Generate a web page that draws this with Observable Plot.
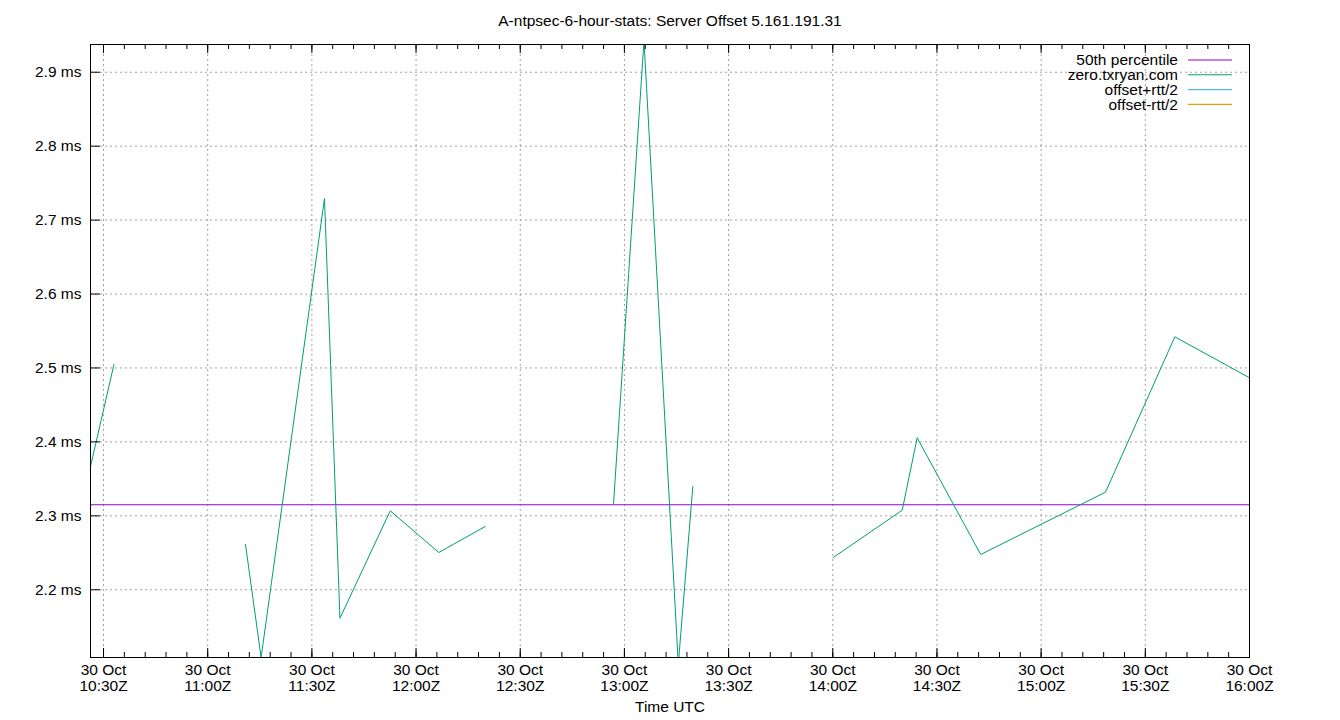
<!DOCTYPE html>
<html>
<head>
<meta charset="utf-8">
<script src="https://cdn.jsdelivr.net/npm/d3@7"></script>
<script src="https://cdn.jsdelivr.net/npm/@observablehq/plot@0.6"></script>
<style>
  html, body { margin: 0; padding: 0; background: #fff; }
  #chart { position: relative; width: 1340px; height: 720px; }
</style>
</head>
<body>
<div id="chart"></div>
<script>
// ---------- data ----------
const title = "A-ntpsec-6-hour-stats: Server Offset 5.161.191.31";
const xLabel = "Time UTC";
const day = "2023-10-30";
const times = ["10:26:15","10:33:00","11:10:53","11:15:23","11:33:38","11:38:05","11:52:34",
               "12:06:33","12:19:55","12:56:52","13:05:38","13:15:31","13:19:42","14:00:07",
               "14:20:00","14:24:18","14:42:36","15:18:32","15:38:30","16:00:00"];
const offsets = [2.3667,2.5047,2.2612,2.1084,2.7292,2.1616,2.3068,
                 2.2504,2.2856,2.3162,2.9429,2.0995,2.3397,2.2436,
                 2.3076,2.4055,2.2477,2.3320,2.5421,2.4867];
const segments = [0,0,1,1,1,1,1,1,1,2,2,2,2,3,3,3,3,3,3,3];
const percentile50 = 2.3149;
const xDomain = ["10:26:15","16:00:00"];
const yDomain = [2.1084, 2.9375];
const yTicks = [2.2,2.3,2.4,2.5,2.6,2.7,2.8,2.9];
const xTickTimes = ["10:30","11:00","11:30","12:00","12:30","13:00","13:30","14:00","14:30","15:00","15:30","16:00"];
const legendLabels = ["50th percentile","zero.txryan.com","offset+rtt/2","offset-rtt/2"];
const legendColors = ["#9400d3","#009e73","#56b4e9","#e69f00"];

// ---------- build ----------
const toDate = t => new Date(`${day}T${t.length === 5 ? t + ":00" : t}Z`);
const data = times.map((t, i) => ({time: toDate(t), value: offsets[i], seg: segments[i]}));
const xTicks = xTickTimes.map(toDate);
const minorTicks = d3.utcMinute.every(6).range(toDate(xDomain[0]), new Date(+toDate(xDomain[1]) + 1));

const W = 1340, H = 720, mL = 90, mR = 91, mT = 44, mB = 63;
const plotW = W - mL - mR, plotH = H - mT - mB;
const font = "'Liberation Sans', Arial, sans-serif";
const gridStyle = {stroke: "#a0a0a0", strokeOpacity: 1, strokeWidth: 1, strokeDasharray: "2,3"};
const fmtTime = d3.utcFormat("%H:%MZ");

function legendMark() {
  const g = d3.create("svg:g").attr("font-family", font).attr("font-size", "15.5px");
  legendLabels.forEach((lab, i) => {
    const y = mT + 16 + i * 14.8;
    g.append("text").attr("x", W - mR - 71).attr("y", y).attr("dy", "0.35em")
      .attr("text-anchor", "end").attr("fill", "black").text(lab);
    g.append("line").attr("x1", W - mR - 61).attr("x2", W - mR - 17)
      .attr("y1", y).attr("y2", y).attr("stroke", legendColors[i]).attr("stroke-width", 1.1);
  });
  return g.node();
}

const chart = Plot.plot({
  width: W, height: H,
  marginLeft: mL, marginRight: mR, marginTop: mT, marginBottom: mB,
  style: {fontFamily: font, fontSize: "15.5px", background: "white", color: "black", overflow: "visible"},
  x: {type: "utc", domain: xDomain.map(toDate), axis: null},
  y: {domain: yDomain, axis: null},
  marks: [
    Plot.ruleX(xTicks, {x: d => d, ...gridStyle}),
    Plot.ruleY(yTicks, {y: d => d, ...gridStyle}),
    Plot.ruleY([percentile50], {y: d => d, stroke: legendColors[0], strokeWidth: 1.1}),
    Plot.line(data, {x: "time", y: "value", z: "seg", stroke: legendColors[1], strokeWidth: 1, clip: true}),
    // inward tick marks
    Plot.ruleX(xTicks, {x: d => d, stroke: "black", insetTop: plotH - 9}),
    Plot.ruleX(xTicks, {x: d => d, stroke: "black", insetBottom: plotH - 9}),
    Plot.ruleX(minorTicks, {x: d => d, stroke: "black", insetTop: plotH - 5}),
    Plot.ruleX(minorTicks, {x: d => d, stroke: "black", insetBottom: plotH - 5}),
    Plot.ruleY(yTicks, {y: d => d, stroke: "black", insetRight: plotW - 10}),
    Plot.frame({stroke: "black", strokeWidth: 1}),
    // tick labels
    Plot.text(xTicks, {x: d => d, frameAnchor: "bottom", lineAnchor: "top", dy: 6, lineHeight: 1.05,
      text: d => "30 Oct\n" + fmtTime(d), fill: "black"}),
    Plot.text(yTicks, {y: d => d, frameAnchor: "left", textAnchor: "end", dx: -9,
      text: d => d.toFixed(1) + " ms", fill: "black"}),
    Plot.text([xLabel], {frameAnchor: "bottom", dy: 54, text: d => d, fill: "black"}),
    Plot.text([title], {frameAnchor: "top", dy: -30, text: d => d, fill: "black"}),
    legendMark
  ]
});
document.getElementById("chart").appendChild(chart);
</script>
</body>
</html>
